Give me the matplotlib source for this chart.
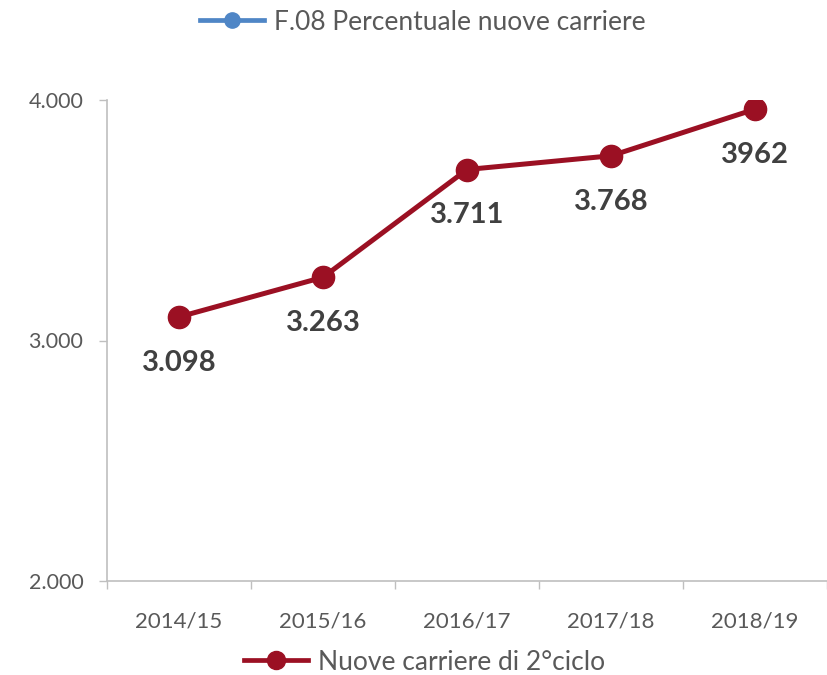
import matplotlib
matplotlib.use("Agg")
import matplotlib.pyplot as plt
from matplotlib.lines import Line2D
from matplotlib.ticker import FixedLocator

categories = ["2014/15", "2015/16", "2016/17", "2017/18", "2018/19"]
values = [3098, 3263, 3711, 3768, 3962]
labels = ["3.098", "3.263", "3.711", "3.768", "3962"]
yticks = [2000, 3000, 4000]
ytick_labels = ["2.000", "3.000", "4.000"]

plt.rcParams['font.family'] = ['Lato', 'DejaVu Sans']

red = "#9B1023"
blue = "#4F86C6"
gray_txt = "#595959"
axis_col = "#BFBFBF"

fig = plt.figure(figsize=(8.28, 6.75), dpi=100)
ax = fig.add_axes([107/828, 1-581/675, 721/828 - 0.001, (581-100)/675])

x = list(range(len(categories)))
ax.plot(x, values, color=red, lw=3.6, marker='o', ms=16, zorder=3)
for xi, v, lab in zip(x, values, labels):
    ax.annotate(lab, (xi, v), xytext=(0, -33), textcoords='offset points',
                ha='center', va='center', fontsize=21, fontweight='bold', color="#404040")

ax.set_xlim(-0.5, len(categories) - 0.5)
ax.set_ylim(yticks[0], yticks[-1])
ax.set_yticks(yticks)
ax.set_yticklabels(ytick_labels)
ax.set_xticks(x)
ax.set_xticklabels(categories)
ax.xaxis.set_minor_locator(FixedLocator([i - 0.5 for i in range(len(categories) + 1)]))
ax.tick_params(axis='x', which='major', length=0, pad=22, labelsize=16, labelcolor=gray_txt)
ax.tick_params(axis='x', which='minor', length=6, color=axis_col, width=1, direction='out')
ax.tick_params(axis='y', length=6, color=axis_col, width=1, labelsize=15.5, labelcolor=gray_txt, pad=11)

for s in ['top', 'right']:
    ax.spines[s].set_visible(False)
for s in ['left', 'bottom']:
    ax.spines[s].set_color(axis_col)
    ax.spines[s].set_linewidth(1.2)

h_top = Line2D([], [], color=blue, lw=3.4, marker='o', ms=11)
fig.legend([h_top], ["F.08 Percentuale nuove carriere"], loc='center', bbox_to_anchor=(423/828, 1-22/675),
           frameon=False, fontsize=19, labelcolor=gray_txt, handlelength=2.4, handletextpad=0.4)
h_bot = Line2D([], [], color=red, lw=3.4, marker='o', ms=13)
fig.legend([h_bot], ["Nuove carriere di 2°ciclo"], loc='center', bbox_to_anchor=(425/828, 1-662/675),
           frameon=False, fontsize=19, labelcolor=gray_txt, handlelength=2.4, handletextpad=0.4)

fig.savefig("out.png", dpi=100)
